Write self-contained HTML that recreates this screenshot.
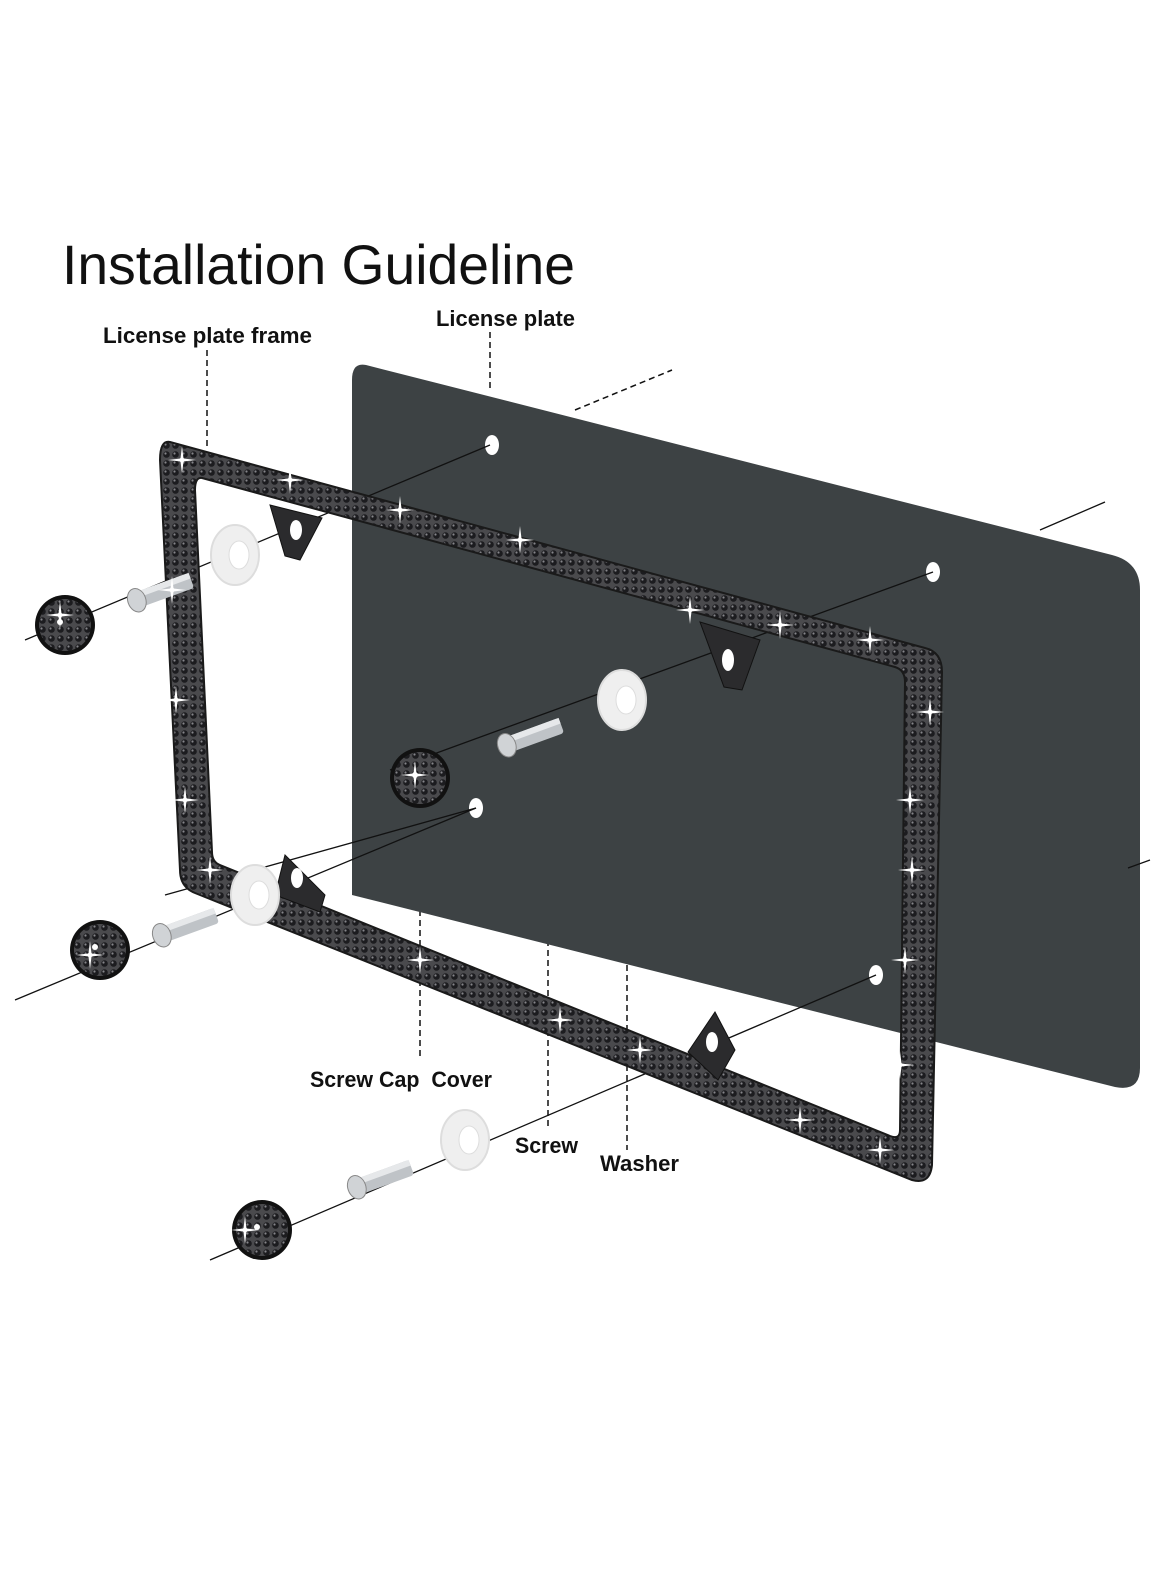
<!DOCTYPE html>
<html><head><meta charset="utf-8"><style>
html,body{margin:0;padding:0;background:#fff;}
svg{display:block;}
text{font-family:"Liberation Sans",sans-serif;}
</style></head><body>
<svg width="1170" height="1571" viewBox="0 0 1170 1571" xmlns="http://www.w3.org/2000/svg">
<defs>
<pattern id="gem" width="9" height="9" patternUnits="userSpaceOnUse">
<rect width="9" height="9" fill="#4a4a4d"/>
<circle cx="4.5" cy="4.5" r="3.3" fill="#1c1c1f"/>
<circle cx="3.5" cy="3.5" r="1.1" fill="#85858a"/>
</pattern>
<g id="spark"><path d="M0,-14 L1.5,-1.5 L14,0 L1.5,1.5 L0,14 L-1.5,1.5 L-14,0 L-1.5,-1.5Z" fill="#fff"/><circle r="2.5" fill="#fff"/></g>
<g id="cap"><circle r="30" fill="#111"/><circle r="26" fill="url(#gem)"/><circle cx="-5" cy="-3" r="3" fill="#fff"/></g>
<g id="washer"><ellipse rx="24" ry="30" fill="#efefef" stroke="#ddd" stroke-width="2"/><ellipse cx="4" rx="10" ry="14" fill="#fff" stroke="#ddd"/></g>
<g id="screw"><rect x="-30" y="-8" width="58" height="16" rx="3" fill="#bfc3c7"/><rect x="-30" y="-8" width="58" height="6" fill="#e6e8ea"/><ellipse cx="-30" cy="0" rx="9" ry="12" fill="#d0d3d6" stroke="#888"/></g>
</defs>

<text x="62" y="284" font-size="56" textLength="513" lengthAdjust="spacingAndGlyphs" fill="#111">Installation Guideline</text>
<text x="103" y="343" font-size="22" font-weight="bold" textLength="209" lengthAdjust="spacingAndGlyphs" fill="#111">License plate frame</text>
<text x="436" y="326" font-size="22" font-weight="bold" textLength="139" lengthAdjust="spacingAndGlyphs" fill="#111">License plate</text>
<text x="310" y="1087" font-size="22" font-weight="bold" textLength="182" lengthAdjust="spacingAndGlyphs" fill="#111" xml:space="preserve">Screw Cap  Cover</text>
<text x="515" y="1153" font-size="22" font-weight="bold" textLength="63" lengthAdjust="spacingAndGlyphs" fill="#111">Screw</text>
<text x="600" y="1171" font-size="22" font-weight="bold" textLength="79" lengthAdjust="spacingAndGlyphs" fill="#111">Washer</text>

<g stroke="#111" stroke-width="1.5" stroke-dasharray="6,4" fill="none">
<line x1="207" y1="350" x2="207" y2="450"/>
<line x1="490" y1="332" x2="490" y2="388"/>
<line x1="420" y1="790" x2="420" y2="1060"/>
<line x1="548" y1="760" x2="548" y2="1130"/>
<line x1="627" y1="735" x2="627" y2="1150"/>
<line x1="575" y1="410" x2="672" y2="370"/>
</g>

<path d="M366,365 L1112,555 Q1140,562 1140,590 L1140,1068 Q1140,1092 1115,1087 L352,895 L352,380 Q352,362 366,365Z" fill="#3d4244"/>
<g fill="#fff">
<ellipse cx="492" cy="445" rx="7" ry="10"/>
<ellipse cx="933" cy="572" rx="7" ry="10"/>
<ellipse cx="476" cy="808" rx="7" ry="10"/>
<ellipse cx="876" cy="975" rx="7" ry="10"/>
</g>

<g stroke="#111" stroke-width="1.3" fill="none">
<line x1="25" y1="640" x2="490" y2="445"/>
<line x1="390" y1="770" x2="933" y2="572"/>
<line x1="1040" y1="530" x2="1105" y2="502"/>
<line x1="165" y1="895" x2="476" y2="808"/>
<line x1="15" y1="1000" x2="476" y2="808"/>
<line x1="210" y1="1260" x2="876" y2="975"/>
<line x1="1128" y1="868" x2="1150" y2="860"/>
</g>

<path fill-rule="evenodd" fill="url(#gem)" stroke="#1a1a1a" stroke-width="2"
d="M170,442 L925,648 Q942,652 942,672 L932,1165 Q930,1185 912,1180 L195,893 Q180,887 180,870 L160,460 Q160,440 170,442Z
M202,478 L895,667 Q905,670 905,682 L900,1130 Q900,1140 890,1136 L220,865 Q212,862 212,852 L195,490 Q195,477 202,478Z"/>
<g fill="#2b2b2d" stroke="#111">
<path d="M270,505 L322,518 L300,560 L285,556Z"/>
<path d="M700,622 L760,640 L742,690 L724,687Z"/>
<path d="M285,855 L325,895 L320,912 L275,895Z"/>
<path d="M715,1012 L735,1050 L718,1080 L688,1052Z"/>
</g>
<g fill="#fff"><ellipse cx="296" cy="530" rx="6" ry="10"/><ellipse cx="728" cy="660" rx="6" ry="11"/><ellipse cx="297" cy="878" rx="6" ry="10"/><ellipse cx="712" cy="1042" rx="6" ry="10"/></g>

<use href="#washer" x="235" y="555"/>
<use href="#washer" x="622" y="700"/>
<use href="#washer" x="255" y="895"/>
<use href="#washer" x="465" y="1140"/>
<g transform="translate(165,590) rotate(-20)"><use href="#screw"/></g>
<g transform="translate(535,735) rotate(-20)"><use href="#screw"/></g>
<g transform="translate(190,925) rotate(-20)"><use href="#screw"/></g>
<g transform="translate(385,1177) rotate(-20)"><use href="#screw"/></g>
<use href="#cap" x="65" y="625"/>
<use href="#cap" x="420" y="778"/>
<use href="#cap" x="100" y="950"/>
<use href="#cap" x="262" y="1230"/>

<g>
<use href="#spark" x="182" y="460"/><use href="#spark" x="290" y="480"/><use href="#spark" x="400" y="510"/>
<use href="#spark" x="520" y="540"/><use href="#spark" x="690" y="610"/><use href="#spark" x="780" y="625"/>
<use href="#spark" x="870" y="640"/><use href="#spark" x="930" y="712"/><use href="#spark" x="910" y="800"/>
<use href="#spark" x="912" y="870"/><use href="#spark" x="905" y="960"/><use href="#spark" x="900" y="1065"/>
<use href="#spark" x="176" y="700"/><use href="#spark" x="172" y="590"/><use href="#spark" x="185" y="800"/>
<use href="#spark" x="210" y="870"/><use href="#spark" x="420" y="960"/><use href="#spark" x="560" y="1020"/>
<use href="#spark" x="640" y="1050"/><use href="#spark" x="800" y="1120"/><use href="#spark" x="880" y="1150"/>
<use href="#spark" x="245" y="1230"/><use href="#spark" x="415" y="775"/><use href="#spark" x="90" y="955"/>
<use href="#spark" x="60" y="615"/>
</g>
</svg>
</body></html>
